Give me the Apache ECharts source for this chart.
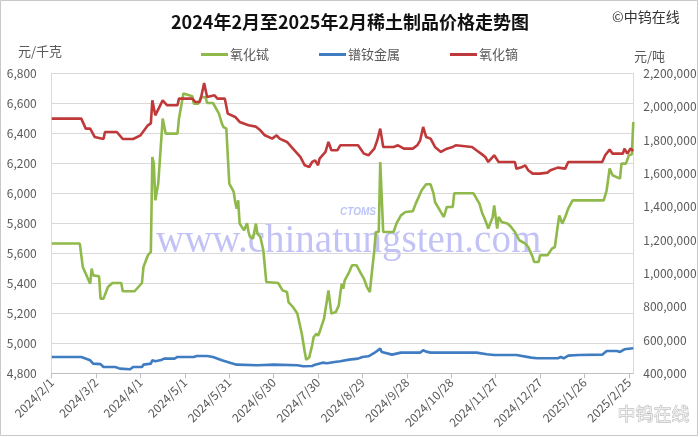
<!DOCTYPE html>
<html><head><meta charset="utf-8">
<script src="https://cdn.jsdelivr.net/npm/echarts@6/dist/echarts.min.js"></script>
<style>html,body{margin:0;padding:0;background:#fff}#c{width:700px;height:437px}</style>
</head><body><div id="c"></div>
<script>
// x values: days since 2024/2/1
const tickDays = [0,30,60,90,120,150,180,210,240,270,300,330,360,390];

const tbDays = [0,19,21,24,26,27,28,32,33,35,38,41,47,48,56,61,62,65,67,68,69,70,72,75,77,85,86,89,95,96,99,101,104,105,109,113,115,116,118,120,123,124,125,126,127,130,132,133,134,136,138,139,141,143,145,153,156,159,160,163,166,169,171,172,174,176,177,179,180,181,184,186,187,188,189,192,194,195,196,197,198,201,203,206,209,211,213,215,216,218,219,221,222,224,231,233,236,239,244,246,250,253,256,258,259,263,265,267,271,272,285,289,291,293,295,298,299,301,302,304,308,310,313,316,320,322,325,326,329,330,335,338,340,342,343,345,347,349,352,373,375,377,379,384,385,388,390,392,393];
const tbValues = [5665,5665,5509,5442,5398,5498,5453,5447,5298,5298,5375,5402,5402,5347,5347,5402,5509,5587,5609,6242,6198,5953,6065,6498,6398,6398,6498,6665,6647,6598,6598,6642,6640,6602,6602,6531,6465,6442,6431,6065,6009,5942,5898,5953,5798,5753,5800,5742,5709,5698,5798,5731,5709,5620,5409,5402,5353,5342,5275,5242,5198,5064,4942,4891,4905,4987,5042,5064,5050,5075,5164,5287,5353,5353,5198,5209,5253,5331,5398,5364,5420,5475,5520,5520,5464,5430,5375,5342,5442,5620,5742,5742,6209,5742,5742,5800,5853,5875,5880,5931,6020,6060,6060,6000,5942,5875,5842,5909,5909,6000,6000,5931,5865,5820,5765,5842,5920,5765,5842,5809,5798,5780,5742,5687,5665,5642,5575,5542,5542,5587,5587,5631,5642,5787,5853,5798,5842,5898,5953,5953,6020,6165,6120,6098,6198,6198,6253,6260,6475];

const prndDays = [0,20,26,28,33,35,43,46,53,55,61,62,67,68,70,74,76,83,85,96,98,105,109,115,121,125,139,150,166,170,176,178,183,186,190,195,201,207,210,214,218,222,223,224,230,236,249,251,253,256,287,294,299,314,324,328,342,344,346,349,356,372,375,382,384,387,393];
const prndValues = [498000,498000,478000,458000,455000,438000,438000,428000,424000,438000,438000,452000,458000,478000,472000,480000,488000,488000,498000,498000,504000,504000,498000,478000,462000,452000,448000,452000,448000,442000,444000,452000,464000,460000,466000,472000,482000,488000,498000,502000,522000,548000,528000,518000,512000,524000,524000,538000,530000,524000,524000,514000,510000,510000,494000,490000,490000,498000,490000,506000,510000,512000,534000,534000,528000,544000,550000];

const dyDays = [0,20,23,26,29,35,36,44,48,55,60,65,67,68,70,75,78,85,86,95,97,100,101,103,105,110,112,117,119,124,127,133,138,141,144,149,152,154,159,163,168,171,174,176,178,180,181,185,187,189,193,195,207,211,214,218,220,222,224,231,234,238,244,247,249,251,253,256,259,263,267,271,273,284,287,291,293,295,299,302,313,314,318,320,322,325,330,335,337,342,347,349,372,374,377,379,386,387,389,391,393];
const dyValues = [1928000,1928000,1868000,1868000,1818000,1806000,1848000,1848000,1806000,1806000,1828000,1888000,1900000,2038000,1948000,2038000,2008000,2008000,2048000,2048000,2028000,2028000,2058000,2142000,2058000,2068000,2048000,2048000,1958000,1938000,1908000,1888000,1880000,1858000,1828000,1808000,1828000,1808000,1788000,1748000,1698000,1648000,1638000,1668000,1678000,1648000,1688000,1728000,1788000,1738000,1738000,1768000,1768000,1718000,1708000,1748000,1798000,1868000,1758000,1758000,1768000,1748000,1748000,1768000,1798000,1878000,1818000,1808000,1758000,1728000,1748000,1758000,1768000,1758000,1738000,1712000,1698000,1668000,1708000,1668000,1668000,1628000,1638000,1648000,1618000,1598000,1598000,1604000,1618000,1634000,1628000,1668000,1668000,1708000,1742000,1718000,1718000,1748000,1718000,1748000,1734000];

const seriesNames = ['氧化铽','镨钕金属','氧化镝'];
const leftTicks = [4800,5000,5200,5400,5600,5800,6000,6200,6400,6600,6800];
const rightTicks = [400000,600000,800000,1000000,1200000,1400000,1600000,1800000,2000000,2200000];

function pairs(xs, ys){ return xs.map((x,i)=>[x, ys[i]]); }
function dateLabel(d){
  const t = new Date(Date.UTC(2024,1,1) + d*864e5);
  return t.getUTCFullYear()+'/'+(t.getUTCMonth()+1)+'/'+t.getUTCDate();
}
function fmtNum(v){ return String(v).replace(/\B(?=(\d{3})+(?!\d))/g, ','); }

const FONT = '"Noto Sans CJK SC", "Noto Sans", sans-serif';
const chart = echarts.init(document.getElementById('c'), null, {renderer:'canvas'});
chart.setOption({
  backgroundColor:'#fff',
  animation:false,
  textStyle:{fontFamily:FONT},
  title:{text:'2024年2月至2025年2月稀土制品价格走势图', left:'center', top:8,
    textStyle:{fontSize:18, fontWeight:'bold', color:'#111', fontFamily:FONT}},
  legend:{data:seriesNames, left:196, top:43, itemWidth:27, itemHeight:3, itemGap:50, icon:'rect',
    textStyle:{fontSize:13, color:'#595959', padding:[0,0,0,-3]}},
  grid:{left:51.7, right:66.7, top:73.3, bottom:63.7, containLabel:false},
  xAxis:{type:'value', min:0, max:393, interval:30,
    axisLine:{show:true, lineStyle:{color:'#bfbfbf'}},
    axisTick:{show:true, length:5, lineStyle:{color:'#bfbfbf'}},
    splitLine:{show:false},
    axisLabel:{rotate:45, fontSize:12, color:'#595959', margin:7, showMaxLabel:false,
      formatter:v => (tickDays.indexOf(v) >= 0 ? dateLabel(v) : '')}},
  yAxis:[
    {type:'value', min:leftTicks[0], max:leftTicks[leftTicks.length-1], interval:200,
     axisLine:{show:true, lineStyle:{color:'#d9d9d9'}}, axisTick:{show:false},
     splitLine:{show:true, lineStyle:{color:'#d9d9d9'}},
     axisLabel:{fontSize:12, color:'#595959', margin:15, formatter:fmtNum}},
    {type:'value', min:rightTicks[0], max:rightTicks[rightTicks.length-1], interval:200000, position:'right',
     axisLine:{show:true, lineStyle:{color:'#d9d9d9'}}, axisTick:{show:false},
     splitLine:{show:false},
     axisLabel:{fontSize:12, color:'#595959', margin:10, formatter:fmtNum}}
  ],
  series:[
    {name:seriesNames[0], type:'line', yAxisIndex:0, data:pairs(tbDays,tbValues), showSymbol:false,
     lineStyle:{width:2.6, color:'#8fb94b'}, itemStyle:{color:'#8fb94b'}},
    {name:seriesNames[1], type:'line', yAxisIndex:1, data:pairs(prndDays,prndValues), showSymbol:false,
     lineStyle:{width:2.6, color:'#3f7cc2'}, itemStyle:{color:'#3f7cc2'}},
    {name:seriesNames[2], type:'line', yAxisIndex:1, data:pairs(dyDays,dyValues), showSymbol:false,
     lineStyle:{width:2.6, color:'#c0393a'}, itemStyle:{color:'#c0393a'}}
  ],
  graphic:[
    {type:'rect', shape:{x:0.5,y:0.5,width:697,height:435}, style:{fill:'none', stroke:'#c8c8c8', lineWidth:1}, silent:true},
    {type:'text', left:18, top:45, style:{text:'元/千克', fontSize:13, fill:'#595959', fontFamily:FONT}},
    {type:'text', left:634, top:50, style:{text:'元/吨', fontSize:13, fill:'#595959', fontFamily:FONT}},
    {type:'text', left:612, top:10, style:{text:'©中钨在线', fontSize:14, fill:'#333', fontFamily:FONT}},
    {type:'text', left:156, top:222, z:-1, style:{text:'www.chinatungsten.com', fontSize:39, fill:'rgba(120,120,235,0.45)', fontFamily:'"Liberation Serif", serif'}},
    {type:'text', left:340, top:207, z:-1, style:{text:'CTOMS', fontSize:10, fontStyle:'italic', fontWeight:'bold', fill:'rgba(120,140,235,0.5)', fontFamily:'"Liberation Sans", sans-serif'}},
    {type:'text', left:617, top:405, style:{text:'中钨在线', fontSize:18, fill:'rgba(240,240,240,0.9)', stroke:'rgba(170,170,170,0.9)', lineWidth:0.8, fontFamily:FONT}}
  ]
});
</script></body></html>
